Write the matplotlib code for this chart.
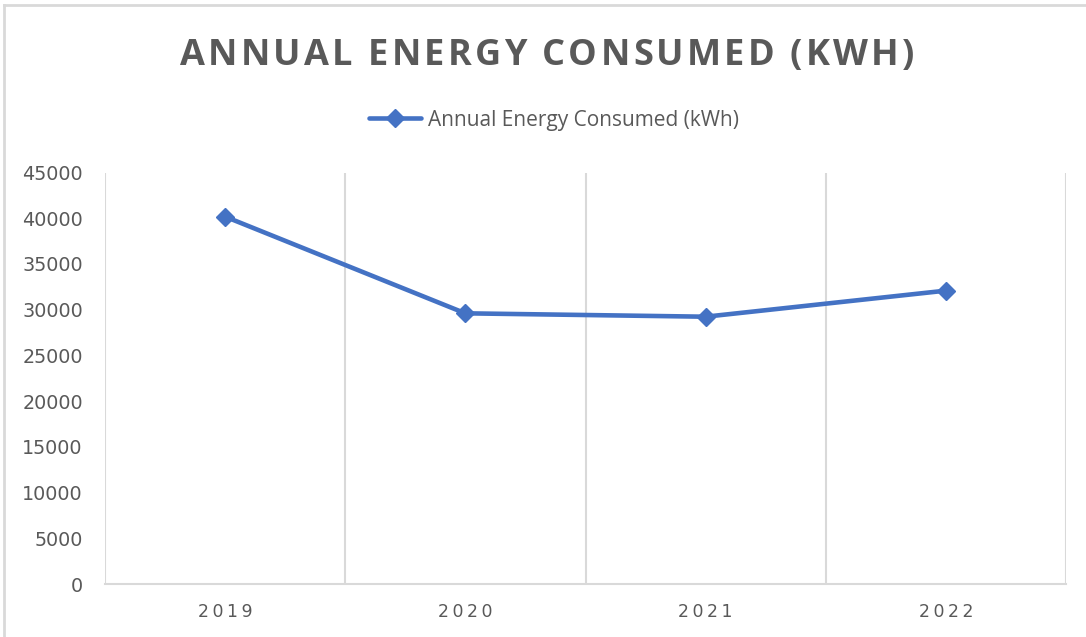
import matplotlib
matplotlib.use('Agg')
import numpy as np
from matplotlib import pyplot as plt
from matplotlib.lines import Line2D

# data
years = ['2019', '2020', '2021', '2022']
energy = [40170, 29600, 29230, 32080]
yticks = np.arange(0, 45001, 5000)

title = 'ANNUAL ENERGY CONSUMED (KWH)'
series_name = 'Annual Energy Consumed (kWh)'

grey = '#595959'
grid = '#D9D9D9'
blue = '#4472C4'

W, H = 1086, 637
fig = plt.figure(figsize=(W / 100, H / 100), dpi=100)
fig.patch.set_facecolor('white')

ax = fig.add_axes([105 / W, 1 - 584 / H, (1066 - 105) / W, (584 - 172.5) / H])
x = np.arange(len(years))
ax.plot(x, energy, color=blue, lw=3.3, marker='D', ms=9,
        solid_capstyle='round', label=series_name, zorder=3)

ax.set_xlim(-0.5, len(years) - 0.5)
ax.set_ylim(0, 45000)
ax.set_yticks(yticks)
ax.set_yticklabels([str(v) for v in yticks], fontsize=13.8, color=grey,
                   family='DejaVu Sans')
ax.set_xticks(x)
ax.set_xticklabels(['\u2009'.join(y) for y in years], fontsize=12.5, color=grey,
                   family='DejaVu Sans')
ax.tick_params(length=0)
ax.tick_params(axis='y', pad=16)
ax.tick_params(axis='x', pad=14)

# category boundary lines
for b in np.arange(-0.5, len(years), 1.0):
    ax.axvline(b, color=grid, lw=1.5, zorder=1)
for s in ['top', 'right', 'left']:
    ax.spines[s].set_visible(False)
ax.spines['bottom'].set_color(grid)
ax.spines['bottom'].set_linewidth(1.5)

leg = fig.legend(loc='center', bbox_to_anchor=(554 / W, 1 - 120 / H),
                 frameon=False, handlelength=2.5,
                 handletextpad=0.3, labelcolor=grey,
                 prop={'family': 'Open Sans', 'size': 15})

# letter-spaced title
chars = []
for c in title:
    t = fig.text(0, 1 - 56 / H, c, fontsize=26, fontweight='bold',
                 family='Open Sans', color=grey, va='center', ha='left')
    chars.append(t)
fig.canvas.draw()
r = fig.canvas.get_renderer()
widths = [t.get_window_extent(r).width for t in chars]
spacing = 3.2
total = sum(widths) + spacing * (len(chars) - 1)
cx = 547 - total / 2
for t, w in zip(chars, widths):
    t.set_x(cx / W)
    cx += w + spacing

# outer border (top and left visible)
fig.add_artist(Line2D([4 / W, 4 / W], [0, 1 - 5 / H], color=grid, lw=2))
fig.add_artist(Line2D([4 / W, 1], [1 - 5 / H, 1 - 5 / H], color=grid, lw=2))

fig.savefig('out.png', dpi=100)
